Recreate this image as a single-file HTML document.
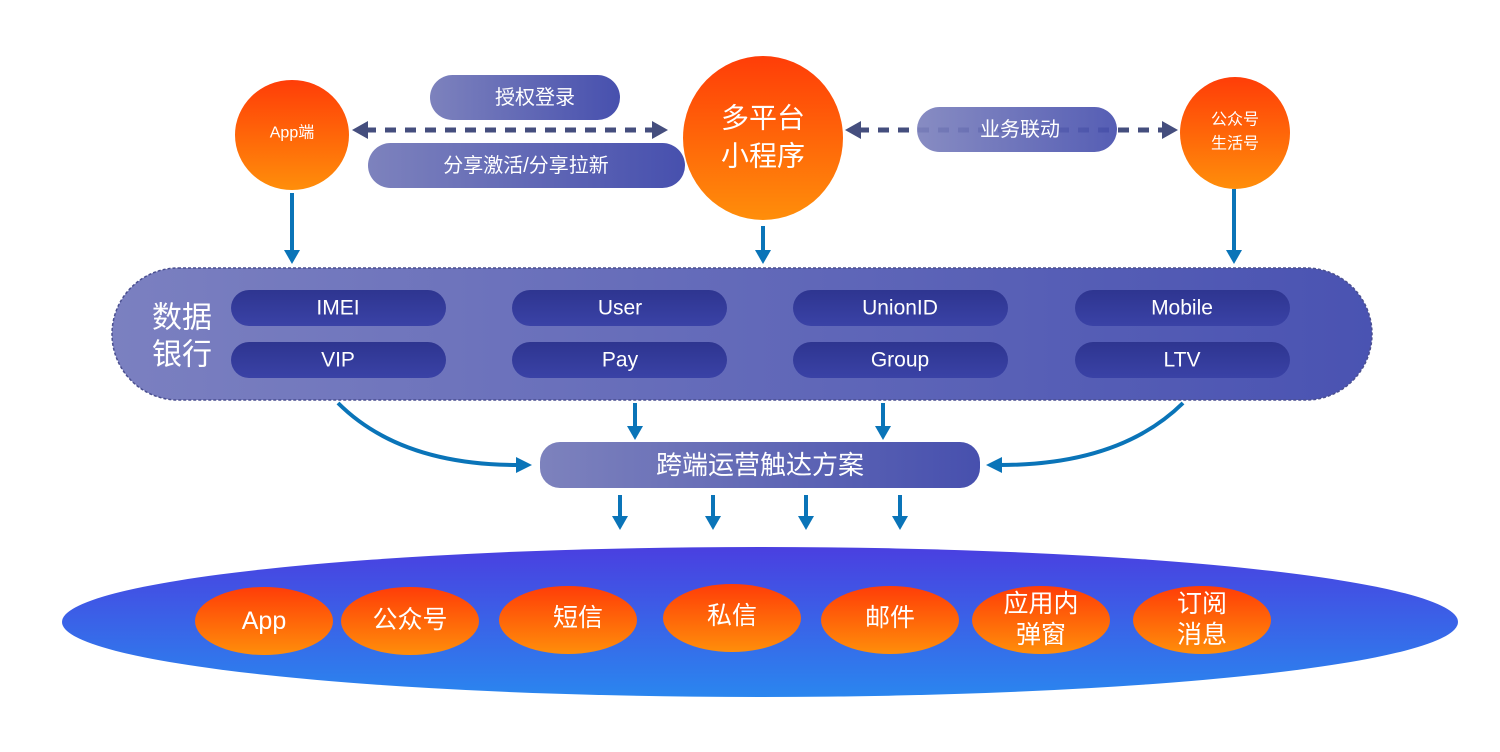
<!DOCTYPE html>
<html><head><meta charset="utf-8"><style>
html,body{margin:0;padding:0;background:#fff;}
svg{display:block;}
text{font-family:"Liberation Sans","Noto Sans CJK SC",sans-serif;fill:#fff;text-anchor:middle;dominant-baseline:central;}
</style></head><body>
<svg width="1500" height="752" viewBox="0 0 1500 752" xmlns="http://www.w3.org/2000/svg">
<defs>
<linearGradient id="org" x1="0" y1="0" x2="0" y2="1"><stop offset="0" stop-color="#ff3d08"/><stop offset="1" stop-color="#ff8e0a"/></linearGradient>
<linearGradient id="pill" x1="0" y1="0" x2="1" y2="0"><stop offset="0" stop-color="#7d82bd"/><stop offset="1" stop-color="#4750ae"/></linearGradient>
<linearGradient id="bank" x1="0" y1="0" x2="1" y2="0"><stop offset="0" stop-color="#7b80c0"/><stop offset="1" stop-color="#4a53b2"/></linearGradient>
<linearGradient id="inner" x1="0" y1="0" x2="0" y2="1"><stop offset="0" stop-color="#2e3590"/><stop offset="1" stop-color="#3a42a6"/></linearGradient>
<linearGradient id="ell" x1="0" y1="0" x2="0" y2="1"><stop offset="0" stop-color="#4a3fe0"/><stop offset="1" stop-color="#2a86ef"/></linearGradient>
<marker id="ah" markerWidth="8" markerHeight="8" refX="4" refY="4" orient="auto" markerUnits="userSpaceOnUse" viewBox="0 0 8 8"><path d="M0,0 L8,4 L0,8 z" fill="#0a74b8"/></marker>
</defs>

<!-- top dashed arrows -->
<g stroke="#454e7e" stroke-width="5" stroke-dasharray="11,9">
<line x1="365" y1="130" x2="655" y2="130"/>
<line x1="858" y1="130" x2="1165" y2="130"/>
</g>
<g fill="#454e7e">
<path d="M352,130 L368,121 L368,139 z"/>
<path d="M668,130 L652,121 L652,139 z"/>
<path d="M845,130 L861,121 L861,139 z"/>
<path d="M1178,130 L1162,121 L1162,139 z"/>
</g>

<!-- pills -->
<rect x="430" y="75" width="190" height="45" rx="22.5" fill="url(#pill)"/>
<text x="535" y="98" font-size="20">授权登录</text>
<rect x="368" y="143" width="317" height="45" rx="22.5" fill="url(#pill)"/>
<text x="526" y="166" font-size="20">分享激活/分享拉新</text>
<rect x="917" y="107" width="200" height="45" rx="22.5" fill="url(#pill)" opacity="0.92"/>
<text x="1020" y="130" font-size="20">业务联动</text>

<!-- top circles -->
<ellipse cx="292" cy="135" rx="57" ry="55" fill="url(#org)"/>
<text x="292" y="133" font-size="16">App端</text>
<ellipse cx="763" cy="138" rx="80" ry="82" fill="url(#org)"/>
<text x="763" y="118" font-size="28">多平台</text>
<text x="763" y="156" font-size="28">小程序</text>
<ellipse cx="1235" cy="133" rx="55" ry="56" fill="url(#org)"/>
<text x="1235" y="120" font-size="16">公众号</text>
<text x="1235" y="144" font-size="16">生活号</text>

<!-- down arrows to bank -->
<g stroke="#0a74b8" stroke-width="4" fill="none">
<line x1="292" y1="193" x2="292" y2="252"/>
<line x1="763" y1="226" x2="763" y2="252"/>
<line x1="1234" y1="189" x2="1234" y2="252"/>
</g>
<g fill="#0a74b8">
<path d="M284,250 L300,250 L292,264 z"/>
<path d="M755,250 L771,250 L763,264 z"/>
<path d="M1226,250 L1242,250 L1234,264 z"/>
</g>

<!-- data bank -->
<rect x="112" y="268" width="1260" height="132" rx="66" fill="url(#bank)" stroke="#4a4f90" stroke-width="1.5" stroke-dasharray="3,2"/>
<text x="182" y="318" font-size="30">数据</text>
<text x="182" y="355" font-size="30">银行</text>
<g fill="url(#inner)">
<rect x="231" y="290" width="215" height="36" rx="18"/>
<rect x="512" y="290" width="215" height="36" rx="18"/>
<rect x="793" y="290" width="215" height="36" rx="18"/>
<rect x="1075" y="290" width="215" height="36" rx="18"/>
<rect x="231" y="342" width="215" height="36" rx="18"/>
<rect x="512" y="342" width="215" height="36" rx="18"/>
<rect x="793" y="342" width="215" height="36" rx="18"/>
<rect x="1075" y="342" width="215" height="36" rx="18"/>
</g>
<g font-size="21">
<text x="338" y="308">IMEI</text>
<text x="620" y="308">User</text>
<text x="900" y="308">UnionID</text>
<text x="1182" y="308">Mobile</text>
<text x="338" y="360">VIP</text>
<text x="620" y="360">Pay</text>
<text x="900" y="360">Group</text>
<text x="1182" y="360">LTV</text>
</g>

<!-- arrows to 跨端 -->
<g stroke="#0a74b8" stroke-width="4" fill="none">
<path d="M338,403 Q400,465 518,465"/>
<path d="M1183,403 Q1120,465 1000,465"/>
<line x1="635" y1="403" x2="635" y2="428"/>
<line x1="883" y1="403" x2="883" y2="428"/>
<line x1="620" y1="495" x2="620" y2="518"/>
<line x1="713" y1="495" x2="713" y2="518"/>
<line x1="806" y1="495" x2="806" y2="518"/>
<line x1="900" y1="495" x2="900" y2="518"/>
</g>
<g fill="#0a74b8">
<path d="M516,457 L532,465 L516,473 z"/>
<path d="M1002,457 L986,465 L1002,473 z"/>
<path d="M627,426 L643,426 L635,440 z"/>
<path d="M875,426 L891,426 L883,440 z"/>
<path d="M612,516 L628,516 L620,530 z"/>
<path d="M705,516 L721,516 L713,530 z"/>
<path d="M798,516 L814,516 L806,530 z"/>
<path d="M892,516 L908,516 L900,530 z"/>
</g>

<rect x="540" y="442" width="440" height="46" rx="20" fill="url(#pill)"/>
<text x="760" y="465" font-size="26">跨端运营触达方案</text>

<!-- bottom ellipse -->
<ellipse cx="760" cy="622" rx="698" ry="75" fill="url(#ell)"/>
<g fill="url(#org)">
<ellipse cx="264" cy="621" rx="69" ry="34"/>
<ellipse cx="410" cy="621" rx="69" ry="34"/>
<ellipse cx="568" cy="620" rx="69" ry="34"/>
<ellipse cx="732" cy="618" rx="69" ry="34"/>
<ellipse cx="890" cy="620" rx="69" ry="34"/>
<ellipse cx="1041" cy="620" rx="69" ry="34"/>
<ellipse cx="1202" cy="620" rx="69" ry="34"/>
</g>
<g font-size="25">
<text x="264" y="621">App</text>
<text x="410" y="620">公众号</text>
<text x="578" y="618">短信</text>
<text x="732" y="616">私信</text>
<text x="890" y="618">邮件</text>
<text x="1041" y="604">应用内</text>
<text x="1041" y="635">弹窗</text>
<text x="1202" y="604">订阅</text>
<text x="1202" y="635">消息</text>
</g>
</svg>
</body></html>
